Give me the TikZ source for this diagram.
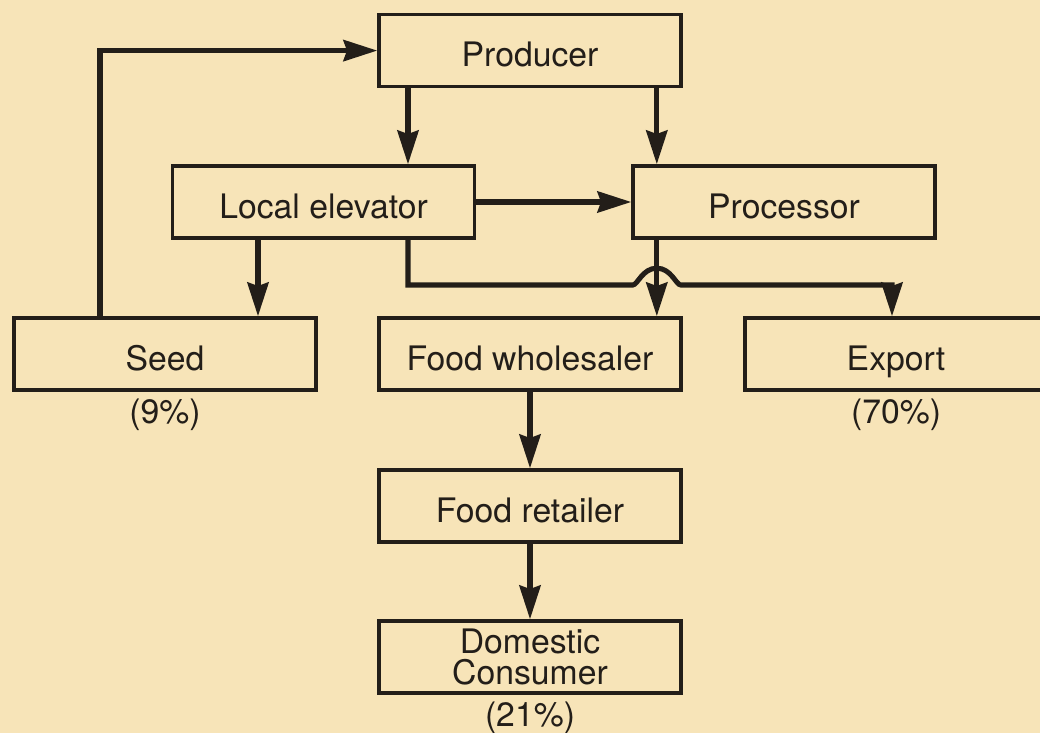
\documentclass[tikz,border=0pt]{standalone}
\usepackage{fontspec}
\setmainfont{TeX Gyre Heros}
\usepackage{xcolor}
\usetikzlibrary{arrows.meta, positioning, calc}
\definecolor{paper}{RGB}{247,228,184}
\definecolor{ink}{RGB}{35,30,25}

\begin{document}
\begin{tikzpicture}[
  frame/.style={draw=ink, line width=2.5pt, minimum width=7.55cm, minimum height=1.8cm,
    inner sep=0pt, align=center, text=ink, font=\fontsize{24}{22.5}\selectfont},
  box/.style={frame, text height=23pt, text depth=0pt},
  share/.style={inner sep=0pt, text=ink, font=\fontsize{24}{22.5}\selectfont},
  flow/.style={draw=ink, line width=3.6pt, -{Stealth[length=24pt,width=15pt,inset=2.5pt]}}
]
% Background
\fill[paper] (0,0) rectangle (26,18.325);
\useasboundingbox (0,0) rectangle (26,18.325);
% Boxes
\node[box] (producer) at (13.25,17.06) {Producer};
\node[box] (elevator) at (8.09,13.275) {Local elevator};
\node[box] (processor) at (19.6,13.275) {Processor};
\node[box] (seed) at (4.125,9.475) {Seed};
\node[box] (wholesaler) at (13.25,9.475) {Food wholesaler};
\node[box] (export) at (22.4,9.475) {Export};
\node[box] (retailer) at (13.25,5.675) {Food retailer};
\node[frame] (consumer) at (13.25,1.9) {Domestic\\Consumer};
% Shares
\node[share, below=0.18cm of seed] (seedshare) {(9\%)};
\node[share, below=0.18cm of export] (exportshare) {(70\%)};
\node[share, below=0.16cm of consumer] (consumershare) {(21\%)};
% Columns of the connectors
\coordinate (seedup) at (2.5,0);
\coordinate (seeddown) at (6.45,0);
\coordinate (elevx) at (10.2,0);
\coordinate (cross) at (16.42,11.2);
\coordinate (exportx) at (22.3,0);
% Connectors
\draw[flow] (seed.north -| seedup) |- (producer.west);
\draw[flow] (producer.south -| elevx) -- (elevator.north -| elevx);
\draw[flow] (producer.south -| cross) -- (processor.north -| cross);
\draw[flow] (elevator.east) -- (processor.west);
\draw[flow] (elevator.south -| seeddown) -- (seed.north -| seeddown);
\draw[flow] (processor.south -| cross) -- (wholesaler.north -| cross);
\draw[flow] (elevator.south -| elevx) |- ([xshift=-0.6cm]cross)
  .. controls +(0.12,0) and +(-0.36,0) .. ([yshift=0.42cm]cross)
  .. controls +(0.36,0) and +(-0.12,0) .. ([xshift=0.6cm]cross)
  -| (export.north -| exportx);
\draw[flow] (wholesaler.south) -- (retailer.north);
\draw[flow] (retailer.south) -- (consumer.north);
\end{tikzpicture}
\end{document}
